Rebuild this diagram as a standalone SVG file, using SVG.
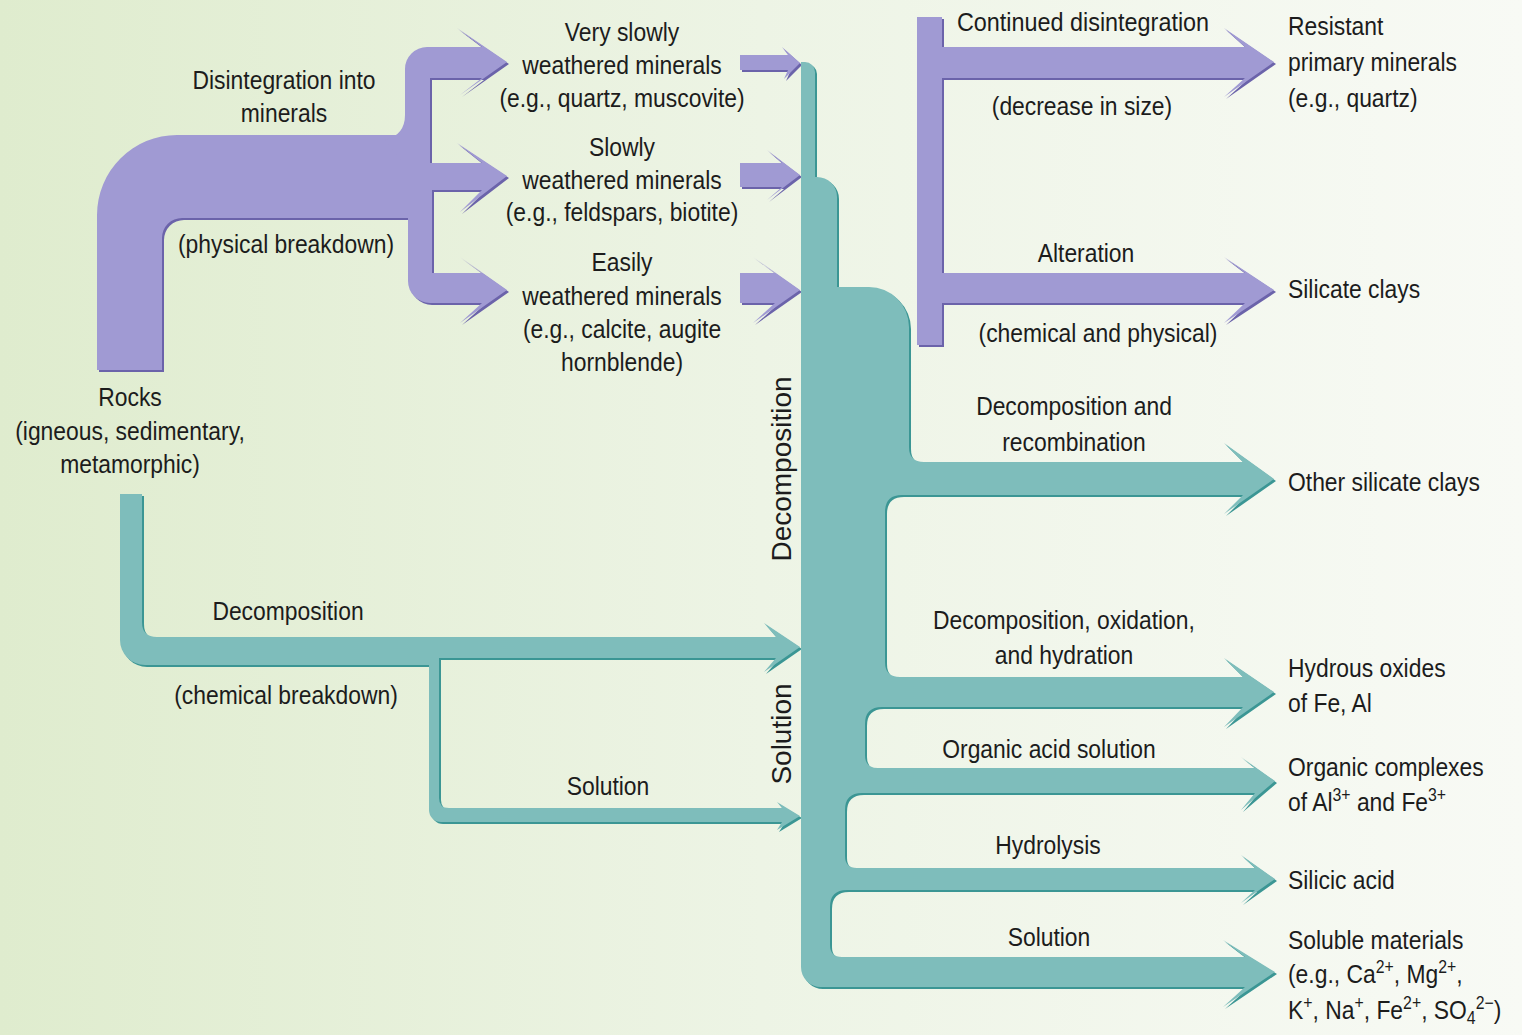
<svg xmlns="http://www.w3.org/2000/svg" xmlns:xlink="http://www.w3.org/1999/xlink" width="1522" height="1035" viewBox="0 0 1522 1035">
<style>
text{font-family:"Liberation Sans",Arial,sans-serif;font-size:26px;fill:#1c1c1c}
.c{text-anchor:middle}
.s{text-anchor:start}
.v{font-size:28px}
.psh{fill:#6b63aa}
.pf{fill:#a09ad3}
.tsh{fill:#3b9694}
.tf{fill:#7ebdbb}
</style>
<defs>
<linearGradient id="bg" x1="0" y1="0" x2="1" y2="0">
<stop offset="0" stop-color="#dfecce"/>
<stop offset="0.5" stop-color="#edf4e5"/>
<stop offset="1" stop-color="#f8faf5"/>
</linearGradient>
<path id="pMain" d="M97,370 V215 A80,80 0 0 1 177,135 H413 V218 H182 A20,20 0 0 0 162,238 V370 Z"/>
<path id="pTop" d="M385,140 Q405,135 405,115 V69 A22,22 0 0 1 427,47 H482 L457,28 L507,62 L460,95 L482,78 H430 V165 H405 Z"/>
<path id="pMid" d="M400,163 H482 L457,143 L507,176 L460,212 L482,190 H400 Z"/>
<path id="pBot" d="M408,188 V281 A22,22 0 0 0 430,303 H482 L460,323 L507,290 L460,257 L482,273 H432 V188 Z"/>
<path id="a1" d="M740,55 H788 L782,47 L800,63 L784,79 L788,70 H740 Z"/>
<path id="a2" d="M740,163 H782 L767,150 L800,175 L767,200 L782,187 H740 Z"/>
<path id="a3" d="M740,273 H775 L753,257 L800,290 L753,323 L775,303 H740 Z"/>
<path id="pRight" d="M917,17 H942 V47 H1245 L1224,28 L1274,62 L1224,97 L1245,78 H942 V273 H1245 L1224,257 L1274,290 L1224,323 L1245,303 H942 V345 H917 Z"/>
<path id="trunk" d="M801,62 H805 A10,10 0 0 1 815,72 V177 H817 A20,20 0 0 1 837,197 V287 H869 A40,40 0 0 1 909,327 V447 Q909,462 924,462 H1243 L1224,443 L1274,479 L1224,514 L1243,495 H902 Q885,495 885,512 V662 Q885,677 900,677 H1243 L1224,658 L1274,692 L1224,727 L1243,707 H882 Q865,707 865,724 V755 Q865,768 878,768 H1255 L1241,757 L1275,781 L1241,810 L1255,793 H862 Q845,793 845,810 V856 Q845,868 857,868 H1255 L1241,855 L1275,879 L1241,903 L1255,890 H847 Q830,890 830,907 V945 Q830,957 842,957 H1245 L1223,940 L1275,972 L1223,1007 L1245,987 H821 A20,20 0 0 1 801,967 Z"/>
<path id="chem" d="M120,494 H142 V622 Q142,637 157,637 H776 L764,623 L800,647 L764,672 L776,658 H439 V798 Q439,808 449,808 H782 L777,802 L800,816 L777,830 L782,822 H441 A12,12 0 0 1 429,810 V665 H145 A25,25 0 0 1 120,640 Z"/>
</defs>
<rect x="0" y="0" width="1522" height="1035" fill="url(#bg)"/>

<g id="connectors">
<g transform="translate(2,2)">
<use xlink:href="#pMain" class="psh"/><use xlink:href="#pTop" class="psh"/><use xlink:href="#pMid" class="psh"/><use xlink:href="#pBot" class="psh"/>
<use xlink:href="#a1" class="psh"/><use xlink:href="#a2" class="psh"/><use xlink:href="#a3" class="psh"/>
<use xlink:href="#pRight" class="psh"/>
<use xlink:href="#trunk" class="tsh"/><use xlink:href="#chem" class="tsh"/>
</g>
<use xlink:href="#pMain" class="pf"/><use xlink:href="#pTop" class="pf"/><use xlink:href="#pMid" class="pf"/><use xlink:href="#pBot" class="pf"/>
<use xlink:href="#a1" class="pf"/><use xlink:href="#a2" class="pf"/><use xlink:href="#a3" class="pf"/>
<use xlink:href="#pRight" class="pf"/>
<use xlink:href="#trunk" class="tf"/><use xlink:href="#chem" class="tf"/>
</g>

<g id="label-disintegration">
<text class="c" transform="translate(284,89) scale(0.88,1)">Disintegration into</text>
<text class="c" transform="translate(284,122) scale(0.88,1)">minerals</text>
<text class="c" transform="translate(286,253) scale(0.88,1)">(physical breakdown)</text>
</g>
<g id="node-very-slowly">
<text class="c" transform="translate(622,41) scale(0.88,1)">Very slowly</text>
<text class="c" transform="translate(622,74) scale(0.88,1)">weathered minerals</text>
<text class="c" transform="translate(622,107) scale(0.88,1)">(e.g., quartz, muscovite)</text>
</g>
<g id="node-slowly">
<text class="c" transform="translate(622,156) scale(0.88,1)">Slowly</text>
<text class="c" transform="translate(622,189) scale(0.88,1)">weathered minerals</text>
<text class="c" transform="translate(622,221) scale(0.88,1)">(e.g., feldspars, biotite)</text>
</g>
<g id="node-easily">
<text class="c" transform="translate(622,271) scale(0.88,1)">Easily</text>
<text class="c" transform="translate(622,305) scale(0.88,1)">weathered minerals</text>
<text class="c" transform="translate(622,338) scale(0.88,1)">(e.g., calcite, augite</text>
<text class="c" transform="translate(622,371) scale(0.88,1)">hornblende)</text>
</g>
<g id="node-rocks">
<text class="c" transform="translate(130,406) scale(0.88,1)">Rocks</text>
<text class="c" transform="translate(130,440) scale(0.88,1)">(igneous, sedimentary,</text>
<text class="c" transform="translate(130,473) scale(0.88,1)">metamorphic)</text>
</g>
<g id="label-chemical">
<text class="c" transform="translate(288,620) scale(0.88,1)">Decomposition</text>
<text class="c" transform="translate(286,704) scale(0.88,1)">(chemical breakdown)</text>
<text class="c" transform="translate(608,795) scale(0.88,1)">Solution</text>
</g>
<g id="label-trunk">
<text class="c v" transform="translate(791,469) rotate(-90)">Decomposition</text>
<text class="c v" transform="translate(791,734) rotate(-90)">Solution</text>
</g>
<g id="label-right-purple">
<text class="c" transform="translate(1083,31) scale(0.9,1)">Continued disintegration</text>
<text class="c" transform="translate(1082,115) scale(0.88,1)">(decrease in size)</text>
<text class="c" transform="translate(1086,262) scale(0.88,1)">Alteration</text>
<text class="c" transform="translate(1098,342) scale(0.88,1)">(chemical and physical)</text>
</g>
<g id="node-resistant">
<text class="s" transform="translate(1288,35) scale(0.88,1)">Resistant</text>
<text class="s" transform="translate(1288,71) scale(0.88,1)">primary minerals</text>
<text class="s" transform="translate(1288,107) scale(0.88,1)">(e.g., quartz)</text>
</g>
<g id="node-silicate-clays">
<text class="s" transform="translate(1288,298) scale(0.88,1)">Silicate clays</text>
</g>
<g id="label-teal-branches">
<text class="c" transform="translate(1074,415) scale(0.88,1)">Decomposition and</text>
<text class="c" transform="translate(1074,451) scale(0.88,1)">recombination</text>
<text class="c" transform="translate(1064,629) scale(0.88,1)">Decomposition, oxidation,</text>
<text class="c" transform="translate(1064,664) scale(0.88,1)">and hydration</text>
<text class="c" transform="translate(1049,758) scale(0.88,1)">Organic acid solution</text>
<text class="c" transform="translate(1048,854) scale(0.88,1)">Hydrolysis</text>
<text class="c" transform="translate(1049,946) scale(0.88,1)">Solution</text>
</g>
<g id="node-other-silicate-clays">
<text class="s" transform="translate(1288,491) scale(0.88,1)">Other silicate clays</text>
</g>
<g id="node-hydrous-oxides">
<text class="s" transform="translate(1288,677) scale(0.88,1)">Hydrous oxides</text>
<text class="s" transform="translate(1288,712) scale(0.88,1)">of Fe, Al</text>
</g>
<g id="node-organic-complexes">
<text class="s" transform="translate(1288,776) scale(0.88,1)">Organic complexes</text>
<text class="s" transform="translate(1288,811) scale(0.88,1)">of Al<tspan dy="-10" font-size="18">3+</tspan><tspan dy="10"> and Fe</tspan><tspan dy="-10" font-size="18">3+</tspan></text>
</g>
<g id="node-silicic-acid">
<text class="s" transform="translate(1288,889) scale(0.88,1)">Silicic acid</text>
</g>
<g id="node-soluble">
<text class="s" transform="translate(1288,949) scale(0.88,1)">Soluble materials</text>
<text class="s" transform="translate(1288,983) scale(0.88,1)">(e.g., Ca<tspan dy="-10" font-size="18">2+</tspan><tspan dy="10">, Mg</tspan><tspan dy="-10" font-size="18">2+</tspan><tspan dy="10">,</tspan></text>
<text class="s" transform="translate(1288,1019) scale(0.88,1)">K<tspan dy="-10" font-size="18">+</tspan><tspan dy="10">, Na</tspan><tspan dy="-10" font-size="18">+</tspan><tspan dy="10">, Fe</tspan><tspan dy="-10" font-size="18">2+</tspan><tspan dy="10">, SO</tspan><tspan dy="5" font-size="18">4</tspan><tspan dy="-15" font-size="18">2−</tspan><tspan dy="10">)</tspan></text>
</g>
</svg>
